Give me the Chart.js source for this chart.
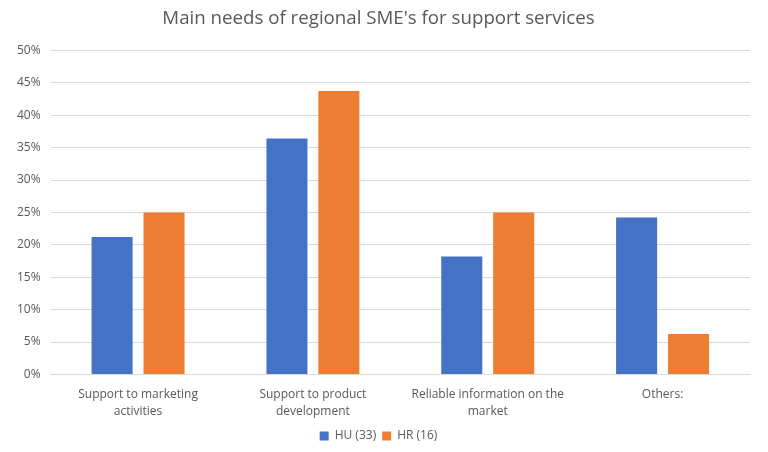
<!DOCTYPE html>
<html><head><meta charset="utf-8">
<script src="https://cdn.jsdelivr.net/npm/chart.js@4/dist/chart.umd.min.js"></script>
<style>html,body{margin:0;padding:0;background:#fff}#wrap{width:768px;height:452px}</style>
</head><body><div id="wrap"><canvas id="c" width="768" height="452"></canvas></div>
<script>
const categories = [["Support to marketing","activities"],["Support to product","development"],["Reliable information on the","market"],["Others:"]];
const huValues = [21.2, 36.4, 18.2, 24.2];
const hrValues = [25.0, 43.75, 25.0, 6.25];
const seriesNames = ["HU (33)", "HR (16)"];
const titleText = "Main needs of regional SME's for support services";
const FONT = "'Open Sans', 'Noto Sans', sans-serif";
new Chart(document.getElementById('c'), {
  type: 'bar',
  data: {
    labels: categories,
    datasets: [
      {label: seriesNames[0], data: huValues, backgroundColor: '#4472C4', categoryPercentage: 0.594, barPercentage: 0.79},
      {label: seriesNames[1], data: hrValues, backgroundColor: '#ED7D31', categoryPercentage: 0.594, barPercentage: 0.79}
    ]
  },
  options: {
    responsive: false, animation: false,
    layout: {padding: {left: 7, right: 18, top: 5, bottom: 0}},
    plugins: {
      title: {display: true, text: titleText, color: '#595959', font: {family: FONT, size: 18.7, weight: 'normal'}, padding: {top: 2, bottom: 21}},
      legend: {position: 'bottom', labels: {color: '#595959', font: {family: FONT, size: 12}, boxWidth: 9, boxHeight: 9, padding: 6}},
      tooltip: {enabled: false}
    },
    scales: {
      x: {grid: {display: false}, border: {color: '#d9d9d9'}, ticks: {color: '#595959', font: {family: FONT, size: 12, lineHeight: 1.4}, maxRotation: 0, padding: 4}},
      y: {min: 0, max: 50, ticks: {stepSize: 5, color: '#595959', font: {family: FONT, size: 12}, padding: 10, callback: v => v + '%'}, grid: {color: '#d9d9d9', drawTicks: false}, border: {display: false}}
    }
  }
});
</script></body></html>
